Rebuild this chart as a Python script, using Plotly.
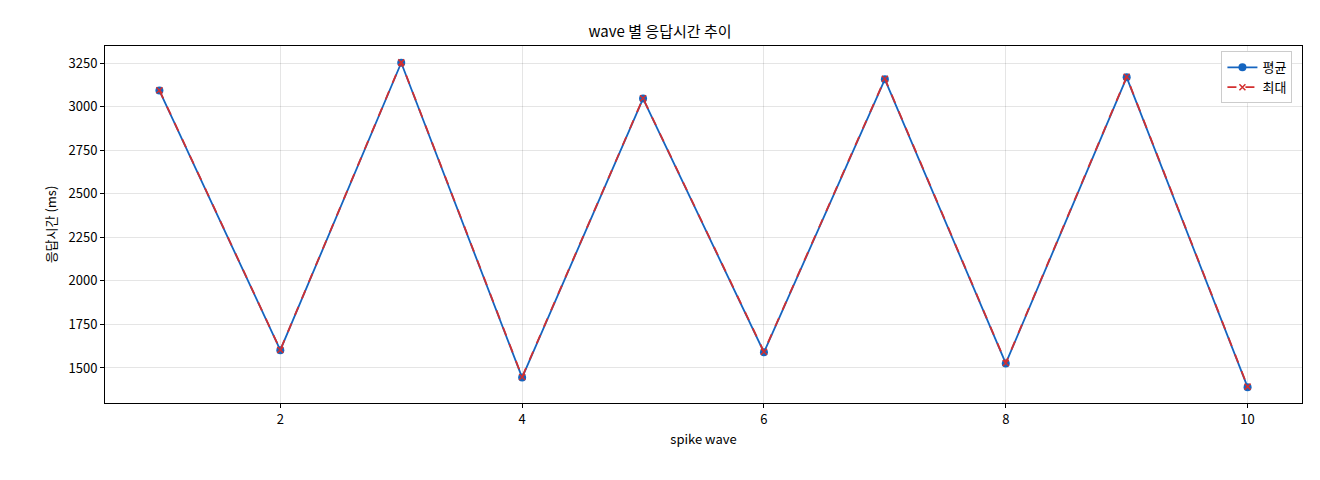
import plotly.graph_objects as go

waves = [1, 2, 3, 4, 5, 6, 7, 8, 9, 10]
avg_ms = [3092, 1602, 3252, 1445, 3046, 1590, 3157, 1526, 3168, 1390]
max_ms = [3094, 1604, 3254, 1448, 3048, 1593, 3160, 1529, 3171, 1393]

fig = go.Figure()
fig.add_trace(go.Scatter(x=waves, y=avg_ms, name="평균", mode="lines+markers",
                         line=dict(color="#1565c0", width=1.8),
                         marker=dict(symbol="circle", size=8, color="#1565c0")))
fig.add_trace(go.Scatter(x=waves, y=max_ms, name="최대", mode="lines+markers",
                         line=dict(color="#d32f2f", width=1.8, dash="dash"),
                         marker=dict(symbol="x-thin", size=6, color="#d32f2f",
                                     line=dict(width=1.5, color="#d32f2f"))))
font = "Noto Sans CJK KR, DejaVu Sans, sans-serif"
ax = dict(showline=True, mirror=True, linecolor="black", linewidth=1,
          ticks="outside", ticklen=4, tickcolor="black",
          showgrid=True, gridcolor="rgba(0,0,0,0.1)", zeroline=False,
          tickfont=dict(size=13, color="black"))
fig.update_layout(
    width=1304, height=464, plot_bgcolor="white", paper_bgcolor="white",
    font=dict(family=font, size=13, color="black"),
    margin=dict(l=97, r=10, t=38, b=69),
    title=dict(text="wave 별 응답시간 추이", x=0.5, xanchor="center", y=0.96, font=dict(size=15)),
    xaxis=dict(**ax, range=[0.55, 10.45], tickvals=[2, 4, 6, 8, 10],
               title=dict(text="spike wave", standoff=8, font=dict(size=13))),
    yaxis=dict(**ax, range=[1299, 3348], tickvals=[1500, 1750, 2000, 2250, 2500, 2750, 3000, 3250],
               title=dict(text="응답시간 (ms)", standoff=8, font=dict(size=13))),
    legend=dict(x=0.992, y=0.985, xanchor="right", yanchor="top",
                bordercolor="#cccccc", borderwidth=1, bgcolor="white", font=dict(size=13)),
)
fig.write_html("out.html")
